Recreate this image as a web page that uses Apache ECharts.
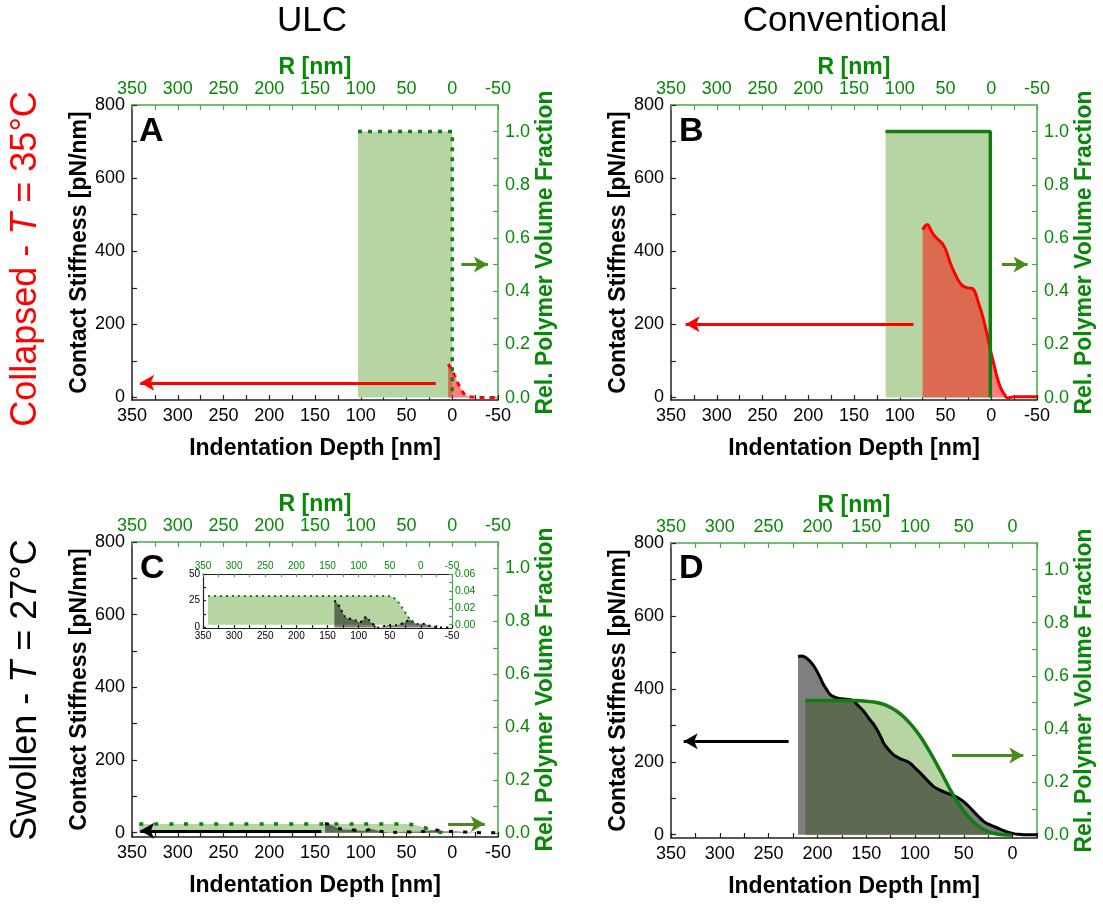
<!DOCTYPE html>
<html><head><meta charset="utf-8">
<script src="https://cdn.jsdelivr.net/npm/echarts@6/dist/echarts.min.js"></script>
<style>html,body{margin:0;padding:0;background:#fff}#c{width:1103px;height:904px}</style>
</head><body><div id="c"></div>
<script>
// ---------- DATA ----------
// tick labels
const xLabelsABC = [350, 300, 250, 200, 150, 100, 50, 0, -50];
const xLabelsD = [350, 300, 250, 200, 150, 100, 50, 0];
const yLeftLabels = [0, 200, 400, 600, 800];
const yRightLabels = [0, 0.2, 0.4, 0.6, 0.8, 1.0];
const insetLeftLabels = [0, 25, 50];
const insetRightLabels = [0, 0.02, 0.04, 0.06];

// Panel A (ULC, collapsed): [depth/R nm, value]
const volFracA = [[103, 1], [0, 1], [0, 0]];
const stiffA = [[4.5, 91], [2, 82], [-1, 68], [-3, 58], [-6, 40], [-8, 30], [-10, 20], [-13, 10], [-17, 3], [-22, 1], [-30, 0], [-50, 0]];

// Panel B (conventional, collapsed)
const volFracB = [[115.5, 1], [1, 1], [1, 0]];
const stiffB = [[75, 459], [72, 470], [69.6, 473], [66, 458], [63, 445], [58, 432], [53.8, 422], [49, 400], [44.7, 367], [39, 335], [33.8, 312], [29, 302], [24, 299], [20, 297], [17, 284], [13.8, 257], [10, 228], [6.5, 193], [3, 155], [1, 130], [-3, 90], [-6.3, 56], [-10, 28], [-13.6, 11], [-17.9, -2], [-21, 0], [-24.5, 2], [-30, 2], [-40, 2], [-50, 2]];

// Panel C (ULC, swollen) and inset
const volFracC = [[342, 0.034], [300, 0.034], [200, 0.034], [100, 0.034], [55, 0.034], [47, 0.033], [39, 0.029], [31, 0.021], [23, 0.012], [15, 0.004], [8, 0.001], [4, 0]];
const stiffC = [[139, 25.3], [135, 23], [130, 19.1], [126, 14], [122, 10.3], [117, 8.5], [111, 7.8], [104, 6.5], [98, 4.7], [93, 7], [88, 10.3], [84, 7.5], [79, 4.1], [73, 1.5], [68, 0], [61, 1], [55, 1.9], [50, 2.2], [44.6, 2], [39, 2.3], [34, 2.8], [25, 5], [17.6, 7.2], [12, 5], [6.9, 3.2], [0, 3.5], [-6.6, 3.2], [-12, 2], [-17, 1], [-25, 0.3], [-30, 0], [-50, 0]];

// Panel D (conventional, swollen)
const stiffD = [[219.9, 489], [215.8, 490], [211, 484], [207.3, 475], [203.5, 462], [200.4, 448], [197, 430], [193.6, 411], [190, 396], [186.8, 384], [183, 378], [180, 375], [173, 372], [166.3, 370], [162, 366], [159.4, 357], [153, 340], [147.5, 320], [143, 305], [138.9, 288], [135, 268], [132.1, 251], [127, 233], [121.9, 219], [115, 208], [108.2, 201], [104, 194], [101.4, 187], [96, 173], [91.2, 160], [86, 145], [80.9, 132], [75, 123], [69, 116], [63, 110], [58.7, 105], [54, 98], [50.2, 91], [45, 78], [40, 64], [35, 50], [29.7, 36.5], [25, 29], [19.5, 23], [14, 17], [9.2, 11], [4, 6], [-1, 3], [-6, 1], [-11, 0], [-25, 0]];
const volFracD = [[212.4, 0.507], [180, 0.507], [160, 0.507], [150, 0.505], [142.4, 0.502], [136, 0.497], [130, 0.49], [124, 0.479], [118, 0.465], [112, 0.447], [106, 0.425], [100, 0.399], [94, 0.369], [88, 0.334], [82, 0.296], [76, 0.256], [70, 0.215], [64, 0.172], [58, 0.134], [52, 0.101], [46, 0.073], [40, 0.05], [34, 0.032], [28, 0.019], [22, 0.01], [16, 0.005], [10, 0.002], [4, 0.001], [0.6, 0]];

// Axis-pointing arrows: [from, to] in data coordinates
const arrowA_stiff = [[18, 40], [341, 40]];
const arrowA_vol = [[-10, 0.5], [-39, 0.5]];
const arrowB_stiff = [[85, 200], [334, 200]];
const arrowB_vol = [[-11.7, 0.5], [-39.7, 0.5]];
const arrowC_stiff = [[143, 5], [341, 5]];
const arrowC_vol = [[4.5, 0.034], [-35.5, 0.034]];
const arrowD_stiff = [[229.5, 256], [337, 256]];
const arrowD_vol = [[62, 0.3], [-11, 0.3]];

// ---------- STYLE ----------
const FONT = '"Liberation Sans", Arial, Helvetica, sans-serif';
const GREEN_TXT = '#078807';
const GREEN_AX = '#48a848';
const GREEN_LINE = '#117d11';
const GREEN_FILL = '#b6d5a3';
const GREEN_ARROW = '#4a8a1c';
const AX_BLACK = '#222';

function mids(a) { return a.slice(1).map((v, i) => (v + a[i]) / 2); }

const grids = [
  {left: 132, top: 105, width: 366, height: 295},
  {left: 671, top: 105, width: 366, height: 295},
  {left: 132, top: 542, width: 366, height: 295},
  {left: 671, top: 543, width: 366, height: 295},
  {left: 203, top: 574, width: 249, height: 54}
];
grids.forEach(g => { g.containLabel = false; g.outerBoundsMode = 'none'; });

const xRanges = [[-50, 350], [-50, 350], [-50, 350], [-25, 350], [-50, 350]];
const yLeftRanges = [[-7, 800], [-7, 800], [-12, 800], [-9, 800], [-0.5, 50]];
const yRightRanges = [[-0.009, 1.1], [-0.009, 1.1], [-0.015, 1.1], [-0.01, 1.1], [-0.004, 0.06]];

const xAxis = [], yAxis = [];
for (let g = 0; g < 5; g++) {
  const inset = g === 4;
  const labs = g === 3 ? xLabelsD : xLabelsABC;
  let ticks = labs.concat(mids(labs));
  if (g === 3) ticks.push(-25);
  const fs = inset ? 10 : 18;
  const tl = inset ? 3 : 5;
  const common = {
    type: 'value', gridIndex: g, inverse: true, min: xRanges[g][0], max: xRanges[g][1],
    splitLine: {show: false}
  };
  xAxis.push(Object.assign({}, common, {
    position: 'bottom',
    axisLine: {show: true, onZero: false, lineStyle: {color: AX_BLACK, width: inset ? 1.2 : 1.5}},
    axisTick: {show: true, inside: true, length: tl, customValues: ticks, lineStyle: {color: AX_BLACK, width: 1.2}},
    axisLabel: {customValues: labs, color: '#000', fontSize: fs, fontFamily: FONT, margin: inset ? 3 : 7, formatter: v => String(Math.round(v))},
    name: inset ? '' : 'Indentation Depth [nm]', nameLocation: 'middle', nameGap: 37,
    nameTextStyle: {fontSize: 23, fontWeight: 'bold', color: '#000', fontFamily: FONT}
  }));
  xAxis.push(Object.assign({}, common, {
    position: 'top',
    axisLine: {show: true, onZero: false, lineStyle: {color: inset ? AX_BLACK : GREEN_AX, width: inset ? 1.2 : 1.5}},
    axisTick: {show: true, inside: true, length: tl, customValues: ticks, lineStyle: {color: GREEN_AX, width: 1.2}},
    axisLabel: {customValues: labs, color: GREEN_TXT, fontSize: fs, fontFamily: FONT, margin: inset ? 3 : 7, formatter: v => String(Math.round(v))},
    name: inset ? '' : 'R [nm]', nameLocation: 'middle', nameGap: 25,
    nameTextStyle: {fontSize: 23, fontWeight: 'bold', color: GREEN_TXT, fontFamily: FONT}
  }));
  const lLabs = inset ? insetLeftLabels : yLeftLabels;
  const rLabs = inset ? insetRightLabels : yRightLabels;
  yAxis.push({
    type: 'value', gridIndex: g, position: 'left', min: yLeftRanges[g][0], max: yLeftRanges[g][1],
    splitLine: {show: false},
    axisLine: {show: true, onZero: false, lineStyle: {color: AX_BLACK, width: inset ? 1.2 : 1.5}},
    axisTick: {show: true, inside: true, length: tl, customValues: lLabs.concat(mids(lLabs)), lineStyle: {color: AX_BLACK, width: 1.2}},
    axisLabel: {customValues: lLabs, color: '#000', fontSize: fs, fontFamily: FONT, margin: inset ? 3 : 7, formatter: v => String(Math.round(v))},
    name: inset ? '' : 'Contact Stiffness [pN/nm]', nameLocation: 'middle', nameGap: 35,
    nameTextStyle: {fontSize: 23, fontWeight: 'bold', color: '#000', fontFamily: FONT}
  });
  yAxis.push({
    type: 'value', gridIndex: g, position: 'right', min: yRightRanges[g][0], max: yRightRanges[g][1],
    splitLine: {show: false},
    axisLine: {show: true, onZero: false, lineStyle: {color: GREEN_AX, width: inset ? 1.2 : 1.5}},
    axisTick: {show: true, inside: true, length: tl, customValues: rLabs.concat(mids(rLabs)), lineStyle: {color: GREEN_AX, width: 1.2}},
    axisLabel: {customValues: rLabs, color: GREEN_TXT, fontSize: inset ? 10.5 : 18, fontFamily: FONT, margin: inset ? 3 : 7, formatter: v => v.toFixed(inset ? 2 : 1)},
    name: inset ? '' : 'Rel. Polymer Volume Fraction', nameLocation: 'middle', nameGap: 36,
    nameTextStyle: {fontSize: 23, fontWeight: 'bold', color: GREEN_TXT, fontFamily: FONT}
  });
}

function arrow(pts, color) {
  return {
    silent: true, animation: false,
    symbol: ['none', 'arrow'], symbolSize: [12, 14],
    label: {show: false},
    lineStyle: {color: color, width: 3, type: 'solid'},
    itemStyle: {color: color},
    emphasis: {disabled: true},
    data: [[{coord: pts[0]}, {coord: pts[1]}]]
  };
}

function fillSeries(g, right, data, color, smooth) {
  return {type: 'line', xAxisIndex: 2 * g, yAxisIndex: 2 * g + (right ? 1 : 0), data: data,
    showSymbol: false, symbol: 'none', smooth: smooth || 0, silent: true,
    lineStyle: {width: 0, opacity: 0}, areaStyle: {color: color, opacity: 1}};
}
function lineSeries(g, right, data, color, width, type, smooth, mark, fill) {
  const s = {type: 'line', xAxisIndex: 2 * g, yAxisIndex: 2 * g + (right ? 1 : 0), data: data,
    showSymbol: false, symbol: 'none', smooth: smooth || 0, silent: true,
    lineStyle: {color: color, width: width, type: type, cap: 'butt'}};
  if (fill) s.areaStyle = {color: fill, opacity: 1};
  if (mark) s.markLine = mark;
  return s;
}

const RED_FILL = 'rgba(255,0,0,0.5)';
const BLACK_FILL = 'rgba(0,0,0,0.5)';

const series = [
  // A
  fillSeries(0, true, volFracA, GREEN_FILL),
  lineSeries(0, false, stiffA, '#ff0000', 3, [5, 5], 0.3, arrow(arrowA_stiff, '#ff0000'), RED_FILL),
  lineSeries(0, true, volFracA, GREEN_LINE, 3.5, [4, 6], 0, arrow(arrowA_vol, GREEN_ARROW)),
  // B
  fillSeries(1, true, volFracB, GREEN_FILL),
  lineSeries(1, false, stiffB, '#ff0000', 3, 'solid', 0.3, arrow(arrowB_stiff, '#ff0000'), RED_FILL),
  lineSeries(1, true, volFracB, GREEN_LINE, 3.5, 'solid', 0, arrow(arrowB_vol, GREEN_ARROW)),
  // C
  fillSeries(2, true, volFracC, GREEN_FILL, 0.3),
  lineSeries(2, false, stiffC, '#000', 3, [4, 10], 0.2, arrow(arrowC_stiff, '#000'), BLACK_FILL),
  lineSeries(2, true, volFracC, GREEN_LINE, 3.5, [4, 11], 0.3, arrow(arrowC_vol, GREEN_ARROW)),
  // D
  fillSeries(3, true, volFracD, GREEN_FILL, 0.15),
  lineSeries(3, false, stiffD, '#000', 3, 'solid', 0.3, arrow(arrowD_stiff, '#000'), BLACK_FILL),
  lineSeries(3, true, volFracD, GREEN_LINE, 3.5, 'solid', 0.15, arrow(arrowD_vol, GREEN_ARROW)),
  // inset of C
  fillSeries(4, true, volFracC, GREEN_FILL, 0.3),
  lineSeries(4, false, stiffC, '#000', 2, [2, 4], 0.2, null, BLACK_FILL),
  lineSeries(4, true, volFracC, GREEN_LINE, 2, [2, 4], 0.3)
];

function txt(x, y, text, size, color, weight, align) {
  return {type: 'text', x: x, y: y, silent: true,
    style: {text: text, fill: color, font: (weight || 'normal') + ' ' + size + 'px ' + FONT,
      textAlign: align || 'center', textVerticalAlign: 'middle', align: align || 'center', verticalAlign: 'middle'}};
}
function vtxt(x, y, pre, post, color) {
  return {type: 'text', x: x, y: y, rotation: Math.PI / 2, silent: true,
    style: {text: '{a|' + pre + '}{b|T}{a|' + post + '}',
      rich: {a: {fontSize: 36, fontFamily: FONT, fill: color, color: color},
             b: {fontSize: 36, fontFamily: FONT, fontStyle: 'italic', fill: color, color: color}},
      fill: color, textAlign: 'center', textVerticalAlign: 'middle', align: 'center', verticalAlign: 'middle'}};
}

const graphic = [
  txt(312, 21, 'ULC', 35, '#000'),
  txt(845, 21, 'Conventional', 35, '#000'),
  vtxt(26, 259, 'Collapsed - ', ' = 35°C', '#ff0000'),
  vtxt(26, 690, 'Swollen - ', ' = 27°C', '#000'),
  txt(139, 132, 'A', 34, '#000', 'bold', 'left'),
  txt(679, 132, 'B', 34, '#000', 'bold', 'left'),
  txt(140, 569, 'C', 34, '#000', 'bold', 'left'),
  txt(679, 569, 'D', 34, '#000', 'bold', 'left')
];

const chart = echarts.init(document.getElementById('c'), null, {renderer: 'canvas'});
chart.setOption({
  animation: false,
  backgroundColor: '#fff',
  textStyle: {fontFamily: FONT},
  grid: grids, xAxis: xAxis, yAxis: yAxis, series: series, graphic: graphic
});
</script></body></html>
